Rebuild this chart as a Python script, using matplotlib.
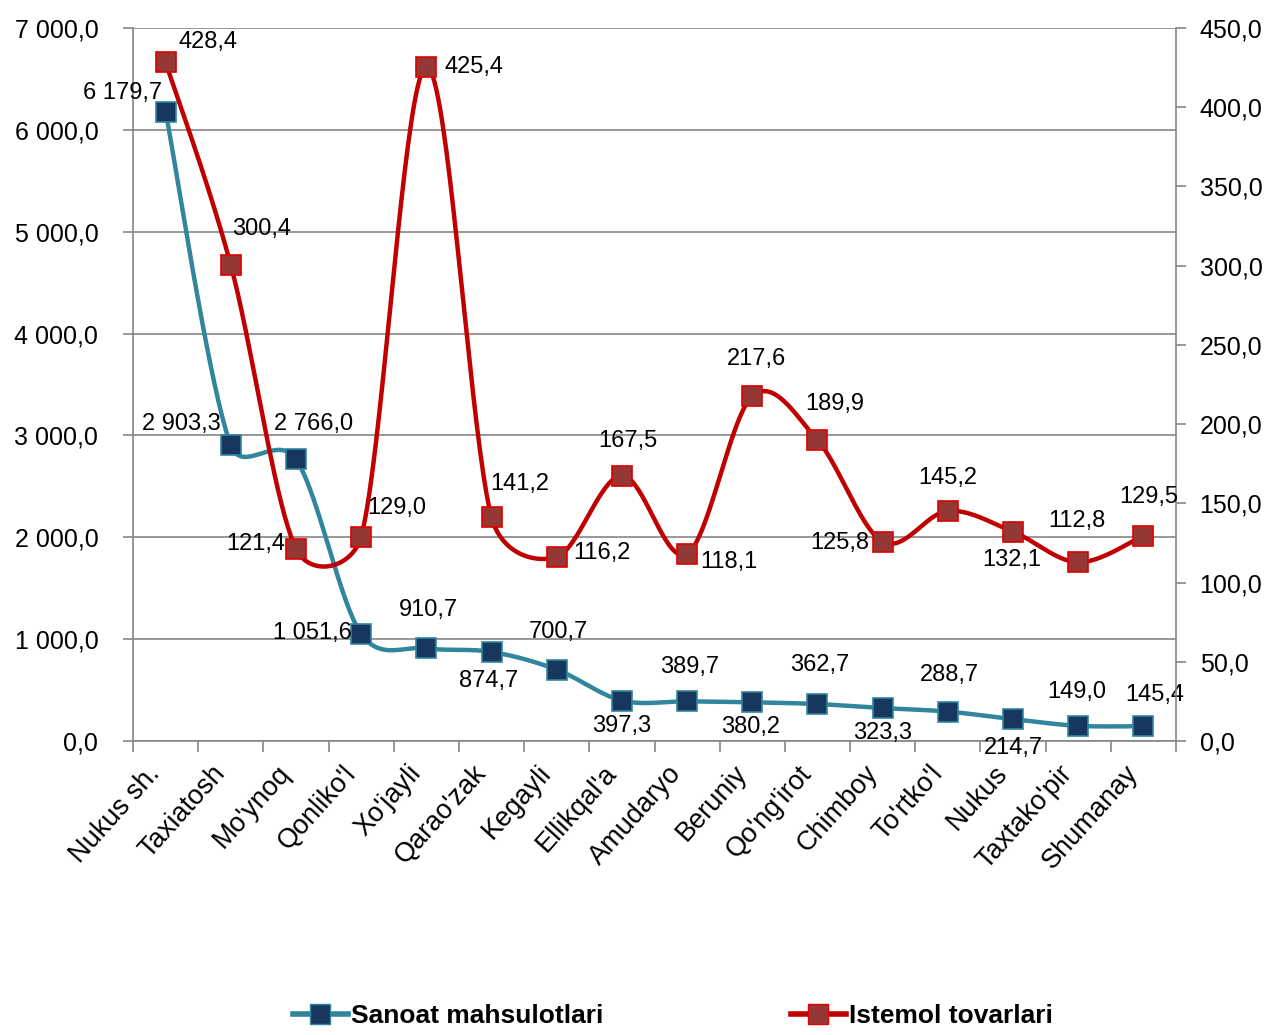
import numpy as np
import matplotlib
matplotlib.use("Agg")
import matplotlib.pyplot as plt
from matplotlib.ticker import FixedLocator, FuncFormatter
from matplotlib.lines import Line2D

plt.rcParams["font.family"] = ["Liberation Sans", "DejaVu Sans"]

districts = ["Nukus sh.", "Taxiatosh", "Mo'ynoq", "Qonliko'l", "Xo'jayli", "Qarao'zak",
             "Kegayli", "Ellikqal'a", "Amudaryo", "Beruniy", "Qo'ng'irot", "Chimboy",
             "To'rtko'l", "Nukus", "Taxtako'pir", "Shumanay"]
sanoat = [6179.7, 2903.3, 2766.0, 1051.6, 910.7, 874.7, 700.7, 397.3,
          389.7, 380.2, 362.7, 323.3, 288.7, 214.7, 149.0, 145.4]
istemol = [428.4, 300.4, 121.4, 129.0, 425.4, 141.2, 116.2, 167.5,
           118.1, 217.6, 189.9, 125.8, 145.2, 132.1, 112.8, 129.5]
left_ticks = [0, 1000, 2000, 3000, 4000, 5000, 6000, 7000]
right_ticks = [0, 50, 100, 150, 200, 250, 300, 350, 400, 450]

# label offsets in pixels (dx, dy) from the marker centre
sanoat_off = [(-43, 19), (-49, 21), (18, 35), (-49, 1), (2, 38), (-3, -29), (2, 38), (0, -25),
              (3, 34), (-2, -25), (2, 39), (0, -25), (2, 37), (0, -29), (-1, 34), (11, 31)]
istemol_off = [(42, 20), (31, 36), (-40, 5), (36, 29), (48, 0), (28, 33), (45, 4), (6, 35),
               (42, -8), (4, 37), (17, 36), (-43, -1), (0, 33), (-1, -28), (-1, 41), (5, 39)]

TEAL = "#31859C"
NAVY = "#17375E"
RED = "#C00000"
DARKRED = "#953735"
GRID = "#868686"


def fmt(v):
    return f"{v:,.1f}".replace(",", " ").replace(".", ",")


def excel_smooth(ax, x, y, n=40):
    # Excel-style bezier smoothing, computed in screen space
    pts = ax.transData.transform(np.column_stack([x, y]))
    out = [pts[0]]
    t = np.linspace(0, 1, n)[1:, None]
    for i in range(len(pts) - 1):
        p1, p2 = pts[i], pts[i + 1]
        p0 = pts[i - 1] if i > 0 else p1
        p3 = pts[i + 2] if i + 2 < len(pts) else p2
        d12 = np.linalg.norm(p2 - p1)
        d02 = np.linalg.norm(p2 - p0)
        d13 = np.linalg.norm(p3 - p1)
        f1 = 1 / 6 if d02 / 6 < d12 / 2 else d12 / (2 * d02)
        f2 = 1 / 6 if d13 / 6 < d12 / 2 else d12 / (2 * d13)
        c1 = p1 + f1 * (p2 - p0)
        c2 = p2 - f2 * (p3 - p1)
        seg = ((1 - t) ** 3) * p1 + 3 * ((1 - t) ** 2) * t * c1 + 3 * (1 - t) * t ** 2 * c2 + t ** 3 * p2
        out.extend(seg)
    xy = ax.transData.inverted().transform(np.array(out))
    return xy[:, 0], xy[:, 1]


fig = plt.figure(figsize=(12.69, 10.35), dpi=100)
ax = fig.add_axes([133 / 1269, 1 - 741 / 1035, (1176 - 133) / 1269, (741 - 28) / 1035])
ax2 = ax.twinx()

x = np.arange(len(districts))
ax.set_xlim(-0.5, len(districts) - 0.5)
ax.set_ylim(0, 7000)
ax2.set_ylim(0, 450)

# axes styling
for a in (ax, ax2):
    a.spines["top"].set_visible(False)
    for s in ("left", "right", "bottom"):
        a.spines[s].set_color(GRID)
        a.spines[s].set_linewidth(1.2)
ax.spines["right"].set_visible(False)
ax2.spines["left"].set_visible(False)
ax2.spines["bottom"].set_visible(False)

ax.yaxis.set_major_locator(FixedLocator(left_ticks))
ax.yaxis.set_major_formatter(FuncFormatter(lambda v, p: fmt(v)))
ax2.yaxis.set_major_locator(FixedLocator(right_ticks))
ax2.yaxis.set_major_formatter(FuncFormatter(lambda v, p: fmt(v)))
ax.grid(axis="y", color=GRID, linewidth=1.2)
ax.set_axisbelow(True)

ax.tick_params(axis="y", length=7, width=1.2, color=GRID, pad=18, labelsize=18)
ax2.tick_params(axis="y", length=7, width=1.2, color=GRID, pad=10, labelsize=18)

ax.set_xticks(x)
ax.set_xticklabels(districts, rotation=48, ha="right", va="top", fontsize=19.5)
ax.set_xticks(np.arange(-0.5, len(districts)), minor=True)
ax.tick_params(axis="x", which="major", length=0, pad=14)
ax.tick_params(axis="x", which="minor", length=8, width=1.2, color=GRID)

# lines
sx, sy = excel_smooth(ax, x, sanoat)
ax.plot(sx, sy, color=TEAL, linewidth=3.2, zorder=3, solid_capstyle="round")
ax.plot(x, sanoat, linestyle="none", marker="s", markersize=14, markerfacecolor=NAVY,
        markeredgecolor=TEAL, markeredgewidth=1.2, zorder=4)

rx, ry = excel_smooth(ax2, x, istemol)
ax2.plot(rx, ry, color=RED, linewidth=3.2, zorder=3, solid_capstyle="round")
ax2.plot(x, istemol, linestyle="none", marker="s", markersize=14, markerfacecolor=DARKRED,
         markeredgecolor="#E00000", markeredgewidth=1.2, zorder=4)

for xi, v, off in zip(x, sanoat, sanoat_off):
    ax.annotate(fmt(v), (xi, v), xytext=off, textcoords="offset pixels",
                ha="center", va="center", fontsize=17, zorder=5)
for xi, v, off in zip(x, istemol, istemol_off):
    ax2.annotate(fmt(v), (xi, v), xytext=off, textcoords="offset pixels",
                 ha="center", va="center", fontsize=17, zorder=5)

handles = [
    Line2D([], [], color=TEAL, linewidth=4, marker="s", markersize=14,
           markerfacecolor=NAVY, markeredgecolor=TEAL),
    Line2D([], [], color=RED, linewidth=4, marker="s", markersize=14,
           markerfacecolor=DARKRED, markeredgecolor="#E00000"),
]
fig.legend(handles, ["Sanoat mahsulotlari", "Istemol tovarlari"], loc="center",
           bbox_to_anchor=(0.53, 0.018), ncol=2, frameon=False, handlelength=2.1,
           handletextpad=0.1, columnspacing=7.1,
           prop={"weight": "bold", "size": 19})

fig.savefig("out.png", dpi=100)
